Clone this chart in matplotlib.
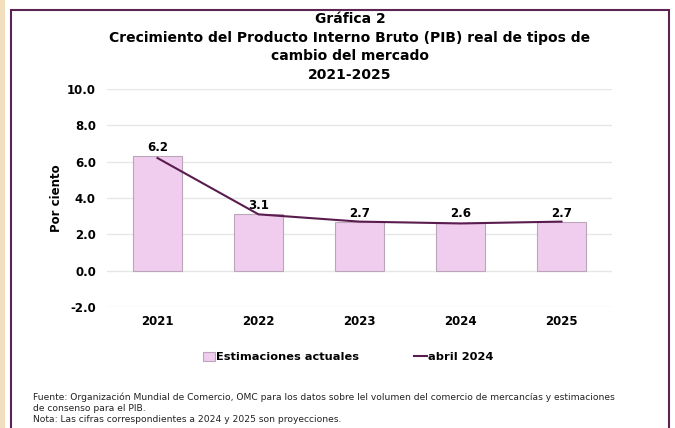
import matplotlib.pyplot as plt
import numpy as np
from matplotlib.patches import Rectangle, Patch
from matplotlib.lines import Line2D

# datos de la gráfica
years = ['2021', '2022', '2023', '2024', '2025']
estimaciones_actuales = [6.3, 3.1, 2.7, 2.65, 2.7]
abril_2024 = [6.2, 3.1, 2.7, 2.6, 2.7]
yticks = [-2, 0, 2, 4, 6, 8, 10]

BAR_COLOR = '#F0CDEE'
BAR_EDGE = '#BBA6B9'
LINE_COLOR = '#5A1C4E'
FRAME_COLOR = '#5B2452'

plt.rcParams['font.family'] = ['DejaVu Sans']

W, H = 675, 428
fig = plt.figure(figsize=(W / 100, H / 100), dpi=100)

# franja beige a la izquierda y marco morado
fig.patches.append(Rectangle((0, 0), 5 / W, 1, transform=fig.transFigure,
                             facecolor='#F3DFBE', edgecolor='none', zorder=0))
fig.patches.append(Rectangle((11 / W, -0.05), (669 - 11) / W, 1 - 9.5 / H + 0.05,
                             transform=fig.transFigure, fill=False,
                             edgecolor=FRAME_COLOR, lw=1.5, zorder=1))

ax = fig.add_axes([107 / W, 1 - 307 / H, (612 - 107) / W, (307 - 89) / H])
x = np.arange(len(years))

ax.bar(x, estimaciones_actuales, width=0.48, color=BAR_COLOR,
       edgecolor=BAR_EDGE, linewidth=0.8, zorder=2)
ax.plot(x, abril_2024, color=LINE_COLOR, lw=1.5, zorder=3)

for xi, b, v in zip(x, estimaciones_actuales, abril_2024):
    ax.annotate(f'{v:.1f}', (xi, b), xytext=(0, 1.5), textcoords='offset points',
                ha='center', va='bottom', fontsize=8.5, fontweight='bold')

ax.set_xlim(-0.5, len(years) - 0.5)
ax.set_ylim(-2, 10)
ax.set_yticks(yticks)
ax.set_yticklabels([f'{t:.1f}' for t in yticks], fontsize=8.5, fontweight='bold')
ax.set_xticks(x)
ax.set_xticklabels(years, fontsize=8.5, fontweight='bold')
ax.tick_params(axis='both', length=0)
ax.tick_params(axis='y', pad=8)
ax.tick_params(axis='x', pad=6)
ax.grid(axis='y', color='#E6E6E6', lw=1.0, zorder=0)
ax.set_axisbelow(True)
for s in ax.spines.values():
    s.set_visible(False)
ax.set_ylabel('Por ciento', fontsize=8.5, fontweight='bold', labelpad=3)

# título
fig.text(350 / W, 1 - 12 / H,
         'Gráfica 2\nCrecimiento del Producto Interno Bruto (PIB) real de tipos de\n'
         'cambio del mercado\n2021-2025',
         ha='center', va='top', fontsize=10, fontweight='bold', linespacing=1.42)

# leyenda
handles = [Patch(facecolor=BAR_COLOR, edgecolor=BAR_EDGE, lw=0.8),
           Line2D([], [], color=LINE_COLOR, lw=1.5)]
fig.legend(handles, ['Estimaciones actuales', 'abril 2024'], ncol=2,
           loc='center', bbox_to_anchor=(348 / W, 1 - 357 / H), frameon=False,
           prop={'size': 8.2, 'weight': 'bold'}, handlelength=1.1,
           handleheight=0.9, handletextpad=0.1, columnspacing=4.8)

# notas
fig.text(33 / W, 1 - 392 / H,
         'Fuente: Organización Mundial de Comercio, OMC para los datos sobre lel volumen '
         'del comercio de mercancías y estimaciones\nde consenso para el PIB.\n'
         'Nota: Las cifras correspondientes a 2024 y 2025 son proyecciones.',
         ha='left', va='top', fontsize=6.6, color='#222222', linespacing=1.3)

fig.savefig('out.png', dpi=100)
